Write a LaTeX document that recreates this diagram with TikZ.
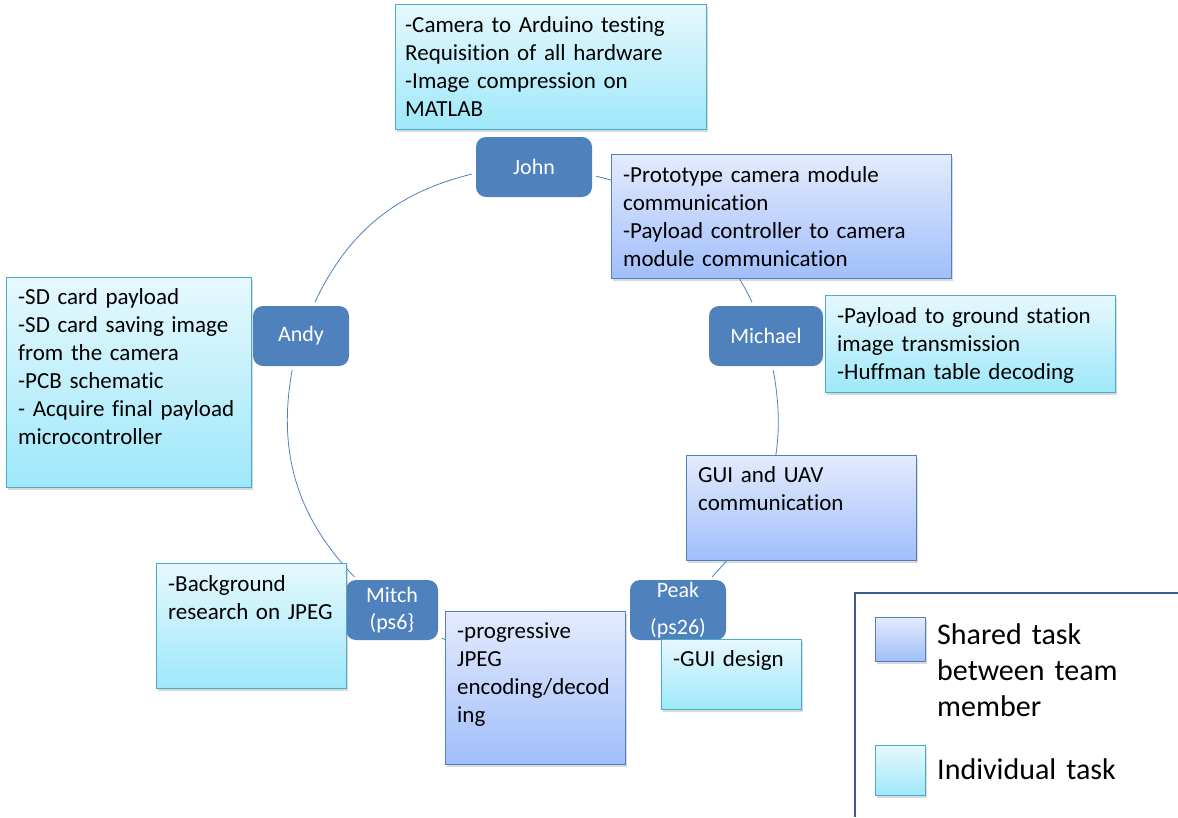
\documentclass[tikz,border=0pt]{standalone}
\usepackage{fontspec}
\setmainfont{Carlito}[Ligatures={NoCommon}]
\usetikzlibrary{shadows}
\definecolor{nodeblue}{RGB}{79,129,189}
\definecolor{sharedtop}{RGB}{228,235,253}
\definecolor{sharedbot}{RGB}{160,190,250}
\definecolor{sharedline}{RGB}{79,129,189}
\definecolor{indtop}{RGB}{230,248,253}
\definecolor{indbot}{RGB}{158,232,250}
\definecolor{indline}{RGB}{75,172,198}
\definecolor{legendline}{RGB}{59,94,145}
\definecolor{connblue}{RGB}{79,129,189}
\begin{document}
\begin{tikzpicture}[x=1pt,y=-1pt,
  person/.style={rectangle, rounded corners=10pt, fill=nodeblue, text=white,
    font=\fontsize{22}{27}\selectfont, align=center, inner sep=0pt, minimum height=60pt},
  taskbox/.style={rectangle, anchor=north west, inner sep=0pt, line width=0.9pt,
    drop shadow={shadow xshift=2pt, shadow yshift=-2.5pt, opacity=0.3}},
  shared/.style={taskbox, draw=sharedline, top color=sharedtop, bottom color=sharedbot},
  indiv/.style={taskbox, draw=indline, top color=indtop, bottom color=indbot},
  tasktext/.style={anchor=base west, inner sep=0pt, align=left, font=\fontsize{23}{28}\selectfont},
  legendtext/.style={anchor=base west, inner sep=0pt, align=left, font=\fontsize{30}{36}\selectfont},
  link/.style={draw=connblue, line width=0.8pt, shorten <=4pt, shorten >=4pt},
  legendframe/.style={draw=legendline, line width=2.5pt},
]
\useasboundingbox (0,0) rectangle (1178,817);

% team members
\node[person, minimum width=116pt] (john) at (534,167) {John};
\node[person, minimum width=114pt] (michael) at (766,336) {Michael};
\node[person, minimum width=96pt] (peak) at (678,610) {Peak\\[10pt](ps26)};
\node[person, minimum width=92pt] (mitch) at (392,610) {Mitch\\(ps6\}};
\node[person, minimum width=96pt] (andy) at (301,336) {Andy};

% cycle
\draw[link] (john.352.9) to[bend left=25.25] (michael.112.9);
\draw[link] (michael.282.8) to[bend left=27.2] (peak.44.1);
\draw[link] (peak.207.4) to[bend left=23.15] (mitch.330.8);
\draw[link] (mitch.139.4) to[bend left=27.2] (andy.255.4);
\draw[link] (andy.68.6) to[bend left=25.5] (john.186.6);

% task boxes
\node[indiv, minimum width=311pt, minimum height=125pt] (b1) at (395,4) {};
\node[tasktext, text width=299pt] (t1) at ([shift={(10,28)}]b1.north west)
  {-Camera to Arduino testing\\Requisition of all hardware\\-Image compression on\\MATLAB};

\node[shared, minimum width=340pt, minimum height=124pt] (b2) at (611,154) {};
\node[tasktext, text width=328pt] (t2) at ([shift={(12,28)}]b2.north west)
  {-Prototype camera module\\communication\\-Payload controller to camera\\module communication};

\node[indiv, minimum width=290pt, minimum height=97pt] (b3) at (825,295) {};
\node[tasktext, text width=278pt] (t3) at ([shift={(12,28)}]b3.north west)
  {-Payload to ground station\\image transmission\\-Huffman table decoding};

\node[indiv, minimum width=245pt, minimum height=210pt] (b4) at (6,277) {};
\node[tasktext, text width=233pt] (t4) at ([shift={(12,27)}]b4.north west)
  {-SD card payload\\-SD card saving image\\from the camera\\-PCB schematic\\- Acquire final payload\\microcontroller};

\node[shared, minimum width=230pt, minimum height=105pt] (b5) at (686,455) {};
\node[tasktext, text width=218pt] (t5) at ([shift={(12,27)}]b5.north west)
  {GUI and UAV\\communication};

\node[indiv, minimum width=190pt, minimum height=125pt] (b6) at (156,563) {};
\node[tasktext, text width=178pt] (t6) at ([shift={(12,28)}]b6.north west)
  {-Background\\research on JPEG};

\node[shared, minimum width=180pt, minimum height=153pt] (b7) at (445,611) {};
\node[tasktext, text width=168pt] (t7) at ([shift={(12,27)}]b7.north west)
  {-progressive\\JPEG\\encoding/decod\\ing};

\node[indiv, minimum width=140pt, minimum height=70pt] (b8) at (661,639) {};
\node[tasktext, text width=128pt] (t8) at ([shift={(12,27)}]b8.north west)
  {-GUI design};

% legend
\coordinate (lgbottom) at (855,817);
\coordinate (lgright) at (1178,593);
\draw[legendframe] (lgbottom) |- (lgright);
\node[shared, minimum width=50pt, minimum height=44pt] (ls) at (875,617) {};
\node[legendtext, text width=230pt] (lst) at (937,644) {Shared task\\between team\\member};
\node[indiv, minimum width=50pt, minimum height=50pt] (li) at (875,745) {};
\node[legendtext, text width=230pt] (lit) at (937,779) {Individual task};
\end{tikzpicture}
\end{document}
